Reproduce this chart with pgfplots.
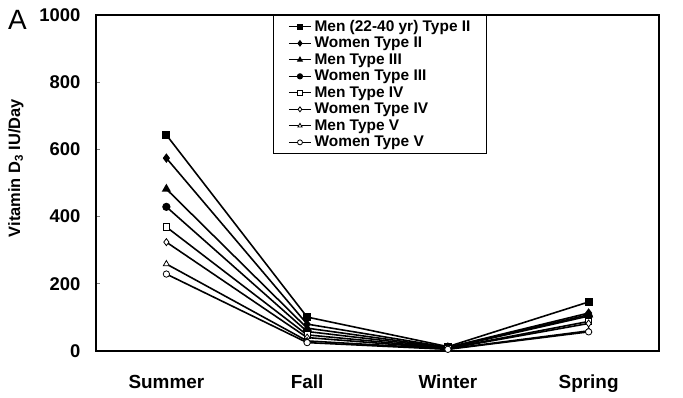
\documentclass[border=0pt]{standalone}
\usepackage{pgfplots}
\pgfplotsset{compat=1.18}
\usepackage{fontspec}
\setmainfont{Liberation Sans}
\begin{document}
\begin{tikzpicture}
\begin{axis}[name=ax,
  scale only axis, width=563bp, height=336bp,
  xmin=-0.5, xmax=3.5, ymin=0, ymax=1000,
  xtick={0,1,2,3}, xticklabels={Summer,Fall,Winter,Spring},
  x tick style={draw=none},
  x tick label style={anchor=base, yshift=-37bp, font=\bfseries\fontsize{19}{22}\selectfont},
  ytick={0,200,...,1000},
  ytick pos=left, tick align=inside, major tick length=4bp,
  y tick label style={xshift=-12bp, font=\bfseries\fontsize{18.5}{22}\selectfont},
  /pgf/number format/assume math mode=true,
  /pgf/number format/1000 sep={},
  axis line style={line width=1.3pt},
  y tick style={line width=1pt},
  ylabel={\bfseries Vitamin D\textsubscript{3} IU/Day},
  ylabel style={font=\fontsize{16.5}{18}\selectfont, at={(rel axis cs:0,0.5)}, anchor=center, yshift=80bp, xshift=15bp},
  legend style={at={(rel axis cs:0.314,1)}, anchor=north west, draw=black, line width=1.2pt,
     font=\bfseries\fontsize{15.5}{16}\selectfont, row sep=0pt, inner xsep=15bp, inner ysep=3bp,
     nodes={inner sep=1bp, text height=11.5bp, text depth=3bp},
     /tikz/every odd column/.style={column sep=2bp},
     legend cell align=left},
  legend image code/.code={\draw[mark repeat=2,mark phase=2,#1] plot coordinates {(0bp,0bp) (11bp,0bp) (22bp,0bp)};},
  legend image post style={line width=1.2pt, mark size=2.5pt},
]
\addplot[black, line width=1.6pt, mark=square*, mark size=3.2pt, mark options={fill=black, solid}] coordinates {(0,643) (1,101) (2,13) (3,146)};
\addlegendentry{Men (22-40 yr) Type II}
\addplot[black, line width=1.6pt, mark=diamond*, mark size=3.5pt, mark options={fill=black, solid}] coordinates {(0,574) (1,80) (2,11) (3,113)};
\addlegendentry{Women Type II}
\addplot[black, line width=1.6pt, mark=triangle*, mark size=3.8pt, mark options={fill=black, solid}] coordinates {(0,482) (1,68) (2,10) (3,108)};
\addlegendentry{Men Type III}
\addplot[black, line width=1.6pt, mark=*, mark size=3.3pt, mark options={fill=black, solid}] coordinates {(0,429) (1,58) (2,9) (3,104)};
\addlegendentry{Women Type III}
\addplot[black, line width=1.6pt, mark=square*, mark size=3.2pt, mark options={fill=white, solid, line width=0.8pt}] coordinates {(0,369) (1,48) (2,8) (3,88)};
\addlegendentry{Men Type IV}
\addplot[black, line width=1.6pt, mark=diamond*, mark size=3.5pt, mark options={fill=white, solid, line width=0.8pt}] coordinates {(0,324) (1,40) (2,7) (3,82)};
\addlegendentry{Women Type IV}
\addplot[black, line width=1.6pt, mark=triangle*, mark size=3.5pt, mark options={fill=white, solid, line width=0.8pt}] coordinates {(0,259) (1,30) (2,6) (3,60)};
\addlegendentry{Men Type V}
\addplot[black, line width=1.6pt, mark=*, mark size=3.2pt, mark options={fill=white, solid, line width=0.8pt}] coordinates {(0,229) (1,25) (2,5) (3,57)};
\addlegendentry{Women Type V}
\end{axis}
\node[anchor=base west, font=\fontsize{28}{30}\selectfont, inner sep=0pt] at ([xshift=-88bp,yshift=-15bp]ax.north west) {A};
\path ([xshift=-96bp,yshift=-46bp]ax.south west) rectangle ([xshift=24bp,yshift=15bp]ax.north east);
\end{tikzpicture}
\end{document}
